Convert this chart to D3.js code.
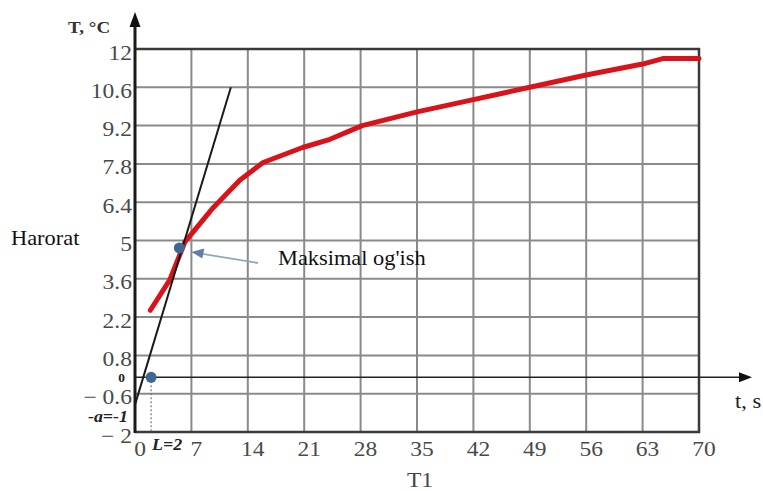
<!DOCTYPE html>
<html>
<head>
<meta charset="utf-8">
<script src="https://cdn.jsdelivr.net/npm/d3@7"></script>
<style>
  html, body { margin: 0; padding: 0; background: #fff; }
  svg { display: block; }
  text { font-family: "Liberation Serif", "Times New Roman", serif; }
</style>
</head>
<body>
<svg id="chart" width="763" height="491"></svg>
<script>
// Heating curve: time t (s) vs temperature T (°C)
const timeTicks = [0, 7, 14, 21, 28, 35, 42, 49, 56, 63, 70];
const tempTicks = [-2, -0.6, 0.8, 2.2, 3.6, 5, 6.4, 7.8, 9.2, 10.6, 12];
const tempTickLabels = ["\u2212 2", "\u2212 0.6", "0.8", "2.2", "3.6", "5", "6.4", "7.8", "9.2", "10.6", "12"];

// Measured response (red curve)
const curveTime = [1.9, 4.3, 6.2, 9.7, 13, 15.9, 20.8, 24.2, 28.2, 35, 42, 49, 56, 63, 65.5, 70];
const curveTemp = [2.45, 3.55, 4.95, 6.2, 7.2, 7.85, 8.4, 8.7, 9.2, 9.7, 10.15, 10.6, 11.05, 11.45, 11.65, 11.65];

// Tangent through the point of maximum slope
const tangentTime = [0, 11.9];
const tangentTemp = [-1, 10.6];

// Marked points: inflection point and dead time L
const inflection = { t: 5.5, T: 4.73 };
const deadTime = 2;     // L = 2
const offsetA = -1;     // -a = -1

const svg = d3.select("#chart");
const x = d3.scaleLinear().domain([0, 70]).range([135, 699]);
const y = d3.scaleLinear().domain([-2, 12]).range([432, 49]);

// Text is set slightly wide
const SX = 1.12;
function place(sel, px, py) {
  return sel.attr("transform", (d, i) => {
    const X = typeof px === "function" ? px(d, i) : px;
    const Y = typeof py === "function" ? py(d, i) : py;
    return `translate(${X},${Y}) scale(${SX},1)`;
  });
}

// Grid
const grid = svg.append("g");
grid.selectAll("line.v").data(timeTicks.slice(1, -1)).join("line")
  .attr("x1", d => x(d)).attr("x2", d => x(d))
  .attr("y1", y(12)).attr("y2", y(-2))
  .attr("stroke", "#8a8a8a").attr("stroke-width", 2);
grid.selectAll("line.h").data(tempTicks.slice(1, -1)).join("line")
  .attr("x1", x(0)).attr("x2", x(70))
  .attr("y1", d => y(d)).attr("y2", d => y(d))
  .attr("stroke", "#8a8a8a").attr("stroke-width", 2);

// Frame (top, right, bottom)
svg.append("path")
  .attr("d", `M${x(0)},${y(12)}H${x(70)}V${y(-2)}H${x(0)}`)
  .attr("fill", "none").attr("stroke", "#3a3a3a").attr("stroke-width", 2.5);

// Y axis with arrow
svg.append("line")
  .attr("x1", x(0)).attr("x2", x(0)).attr("y1", y(-2) + 1).attr("y2", 20)
  .attr("stroke", "#1a1a1a").attr("stroke-width", 3);
svg.append("path")
  .attr("d", `M${x(0)},12 L${x(0) - 5.5},27 L${x(0) + 5.5},27 Z`)
  .attr("fill", "#111");

// Time axis (T = 0) with arrow
const y0 = y(0);
svg.append("line")
  .attr("x1", x(0)).attr("x2", 742).attr("y1", y0).attr("y2", y0)
  .attr("stroke", "#222").attr("stroke-width", 1.6);
svg.append("path")
  .attr("d", `M752,${y0} L739,${y0 - 5} L739,${y0 + 5} Z`)
  .attr("fill", "#111");

// Y tick labels
place(svg.append("g").selectAll("text").data(tempTicks).join("text"), 132, d => y(d) + 10.5)
  .attr("text-anchor", "end")
  .attr("font-size", 21).attr("fill", "#4a4a4a")
  .text((d, i) => tempTickLabels[i]);

// X tick labels
place(svg.append("g").selectAll("text").data(timeTicks).join("text"), d => x(d) + 5, 456)
  .attr("text-anchor", "middle")
  .attr("font-size", 21).attr("fill", "#4a4a4a")
  .text(d => d);

// Dead time marker (dotted drop line)
svg.append("line")
  .attr("x1", x(deadTime)).attr("x2", x(deadTime))
  .attr("y1", y(0)).attr("y2", y(-2))
  .attr("stroke", "#777").attr("stroke-width", 1.2).attr("stroke-dasharray", "2,2");

// Red response curve
const line = d3.line().x(d => x(d[0])).y(d => y(d[1]));
svg.append("path")
  .datum(curveTime.map((t, i) => [t, curveTemp[i]]))
  .attr("d", line)
  .attr("fill", "none").attr("stroke", "#d8141a").attr("stroke-width", 5)
  .attr("stroke-linejoin", "round").attr("stroke-linecap", "round");

// Tangent line
svg.append("path")
  .datum(tangentTime.map((t, i) => [t, tangentTemp[i]]))
  .attr("d", line)
  .attr("fill", "none").attr("stroke", "#1a1a1a").attr("stroke-width", 2);

// Points
svg.append("circle").attr("cx", x(inflection.t)).attr("cy", y(inflection.T)).attr("r", 5.5)
  .attr("fill", "#3e6792");
svg.append("circle").attr("cx", x(deadTime)).attr("cy", y(0)).attr("r", 5.5)
  .attr("fill", "#3e6792");

// Annotation arrow
const ax = x(inflection.t) + 12, ay = y(inflection.T) + 4;
svg.append("line")
  .attr("x1", 258).attr("y1", 263).attr("x2", ax + 8).attr("y2", ay + 1.5)
  .attr("stroke", "#8fa6bf").attr("stroke-width", 1.8);
svg.append("path")
  .attr("d", `M${ax},${ay} L${ax + 13},${ay - 3.5} L${ax + 11},${ay + 6.5} Z`)
  .attr("fill", "#5f80a6");

place(svg.append("text"), 278, 265)
  .attr("font-size", 20).attr("fill", "#111").text("Maksimal og'ish");

// Axis titles
place(svg.append("text"), 68, 33)
  .attr("font-size", 17).attr("font-weight", "bold").attr("fill", "#333").text("T, °C");
place(svg.append("text"), 11, 245)
  .attr("font-size", 20).attr("fill", "#111").text("Harorat");
place(svg.append("text"), 735, 408)
  .attr("font-size", 20).attr("fill", "#222").text("t, s");
place(svg.append("text"), 407, 487)
  .attr("font-size", 21).attr("fill", "#444").text("T1");

// Special labels
place(svg.append("text"), 125, y0 + 5)
  .attr("text-anchor", "end")
  .attr("font-size", 12).attr("font-weight", "bold").attr("fill", "#222").text("0");
place(svg.append("text"), 128, 422)
  .attr("text-anchor", "end")
  .attr("font-size", 16).attr("font-weight", "bold").attr("font-style", "italic").attr("fill", "#222")
  .text("-a=" + offsetA);
place(svg.append("text"), 152, 450)
  .attr("font-size", 16).attr("font-weight", "bold").attr("font-style", "italic").attr("fill", "#222")
  .text("L=" + deadTime);
</script>
</body>
</html>
